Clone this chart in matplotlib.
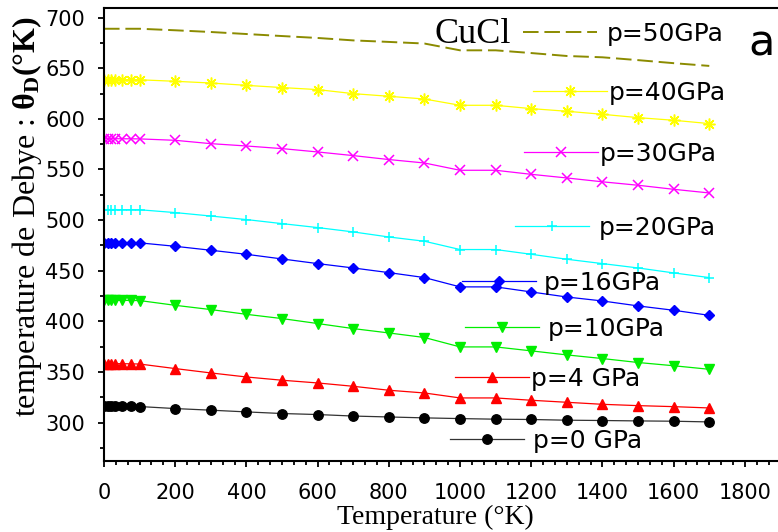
import matplotlib
matplotlib.use("Agg")
import matplotlib.pyplot as plt
from matplotlib.ticker import MultipleLocator

plt.rcParams["mathtext.fontset"] = "custom"
plt.rcParams["mathtext.rm"] = "Liberation Serif"
plt.rcParams["mathtext.it"] = "Liberation Serif:italic"
plt.rcParams["mathtext.bf"] = "Liberation Serif:bold"

W, H = 778, 532

# Temperature grid (K)
temperature = [0, 10, 20, 30, 50, 75, 100, 200, 300, 400, 500, 600, 700, 800,
               900, 1000, 1100, 1200, 1300, 1400, 1500, 1600, 1700]

# Debye temperature (K) of CuCl at each pressure
theta_p0 = [316.4, 316.4, 316.4, 316.3, 316.2, 316.0, 315.8, 313.8, 312.2, 310.5,
            308.9, 307.9, 306.4, 305.5, 304.6, 303.9, 303.3, 303.0, 302.3, 302.0,
            301.6, 301.3, 300.6]
theta_p4 = [358.3, 358.3, 358.3, 358.2, 358.1, 358.0, 357.8, 353.3, 349.0, 345.0,
            341.8, 339.1, 335.8, 331.9, 329.2, 324.3, 324.3, 322.0, 320.0, 318.0,
            316.7, 315.7, 314.4]
theta_p10 = [420.8, 420.8, 420.8, 420.7, 420.7, 420.6, 420.5, 415.8, 411.6, 406.9,
             402.7, 397.8, 392.8, 388.5, 384.0, 374.7, 374.7, 370.8, 366.8, 363.2,
             359.3, 356.1, 352.6]
theta_p16 = [477.8, 477.8, 477.8, 477.7, 477.7, 477.6, 477.5, 474.1, 470.2, 466.2,
             461.6, 457.0, 452.7, 448.1, 443.2, 434.0, 434.0, 429.0, 424.0, 420.1,
             415.2, 410.9, 405.9]
theta_p20 = [510.4, 510.4, 510.4, 510.4, 510.3, 510.3, 510.2, 507.4, 504.0, 500.5,
             496.5, 492.6, 488.3, 483.3, 479.1, 470.9, 470.9, 466.2, 461.3, 457.0,
             452.7, 447.8, 443.2]
theta_p30 = [580.4, 580.4, 580.4, 580.4, 580.3, 580.3, 580.2, 578.8, 575.5, 573.2,
             570.6, 567.3, 563.7, 559.8, 556.4, 549.2, 549.2, 545.2, 541.6, 537.8,
             534.4, 530.4, 526.8]
theta_p40 = [638.8, 638.8, 638.8, 638.8, 638.7, 638.7, 638.6, 637.1, 635.4, 633.1,
             630.9, 628.9, 624.9, 622.3, 619.6, 613.4, 613.4, 610.1, 607.5, 604.5,
             601.2, 598.6, 595.3]
theta_p50 = [689.0, 689.0, 689.0, 689.0, 689.0, 689.0, 689.0, 687.5, 685.8, 683.8,
             681.8, 679.9, 677.5, 676.0, 674.4, 667.7, 667.7, 665.0, 662.1, 660.8,
             658.0, 655.0, 652.3]

labels = ["p=0 GPa", "p=4 GPa", "p=10GPa", "p=16GPa",
          "p=20GPa", "p=30GPa", "p=40GPa", "p=50GPa"]
x_ticks = [0, 200, 400, 600, 800, 1000, 1200, 1400, 1600, 1800]
y_ticks = [300, 350, 400, 450, 500, 550, 600, 650, 700]

styles = [
    dict(color="#333333", marker="o", ms=6.8, mfc="black", mec="black"),
    dict(color="red", marker="^", ms=7.5, mfc="red", mec="red"),
    dict(color="#00ee00", marker="v", ms=7.5, mfc="#00ee00", mec="#00ee00"),
    dict(color="blue", marker="D", ms=5.4, mfc="blue", mec="blue"),
    dict(color="cyan", marker="+", ms=7, mew=1.1),
    dict(color="magenta", marker="x", ms=7.8, mew=1.1),
    dict(color="#ffff00", marker=(8, 2, 0), ms=8.5, mew=1.1),
    dict(color="#8b8b00", marker=None, ls=(0, (8, 3)), lw=1.4),
]
values = [theta_p0, theta_p4, theta_p10, theta_p16,
          theta_p20, theta_p30, theta_p40, theta_p50]

fig = plt.figure(figsize=(W / 100, H / 100), dpi=100)
ax = fig.add_axes([104 / W, 1 - 461 / H, (W - 104) / W, (461 - 7.5) / H])

lines = []
for lab, vals, st in zip(labels, values, styles):
    kw = dict(lw=0.9)
    kw.update(st)
    ln, = ax.plot(temperature, vals, label=lab, **kw)
    lines.append(ln)

ax.set_xlim(0, 1893)
ax.set_ylim(262, 710)
ax.set_xticks(x_ticks)
ax.set_yticks(y_ticks)
ax.xaxis.set_minor_locator(MultipleLocator(200 / 6))
ax.yaxis.set_minor_locator(MultipleLocator(25))
ax.spines["right"].set_visible(False)
for s in ("left", "bottom", "top"):
    ax.spines[s].set_linewidth(1.5)
ax.tick_params(which="both", direction="out", top=False, right=False, width=1.3)
ax.tick_params(which="major", length=4.5, labelsize=15)
ax.tick_params(axis="y", which="major", pad=9)
ax.tick_params(axis="x", which="major", pad=11)
ax.tick_params(which="minor", length=2.8)

ax.set_xlabel("Temperature (°K)", family="Liberation Serif", fontsize=20)
ax.xaxis.set_label_coords((435 - 104) / 674, (461 - 505) / 453.5)
ax.xaxis.label.set_va("top")
ax.set_ylabel(r"temperature de Debye : $\mathbf{\theta_D(°K)}$",
              family="Liberation Serif", fontsize=23)
ax.yaxis.set_label_coords((27 - 104) / 674, (461 - 217) / 453.5)
ax.yaxis.label.set_va("center")

# legend entries, one per series, placed beside the curves
legend_spots = {
    "p=50GPa": (523, 34, 10),
    "p=40GPa": (533, 93, 2),
    "p=30GPa": (524, 154, 2),
    "p=20GPa": (515, 228, 10),
    "p=16GPa": (462, 283, 8),
    "p=10GPa": (465, 329, 9),
    "p=4 GPa": (455, 379, 2),
    "p=0 GPa": (450, 441, 9),
}
fs = 18
fs_px = fs * 100 / 72
for ln in lines:
    lab = ln.get_label()
    x0, y0, gap = legend_spots[lab]
    fig.legend(handles=[ln], labels=[lab], loc="center left",
               bbox_to_anchor=(x0 / W, 1 - y0 / H), frameon=False,
               borderpad=0, borderaxespad=0, numpoints=1,
               handlelength=74 / fs_px, handletextpad=gap / fs_px,
               fontsize=fs)

fig.text(435 / W, 1 - 43 / H, "CuCl", family="Liberation Serif", fontsize=26,
         ha="left", va="baseline")
fig.text(748 / W, 1 - 56 / H, "a", fontsize=31, ha="left", va="baseline")

fig.savefig("out.png", dpi=100)
